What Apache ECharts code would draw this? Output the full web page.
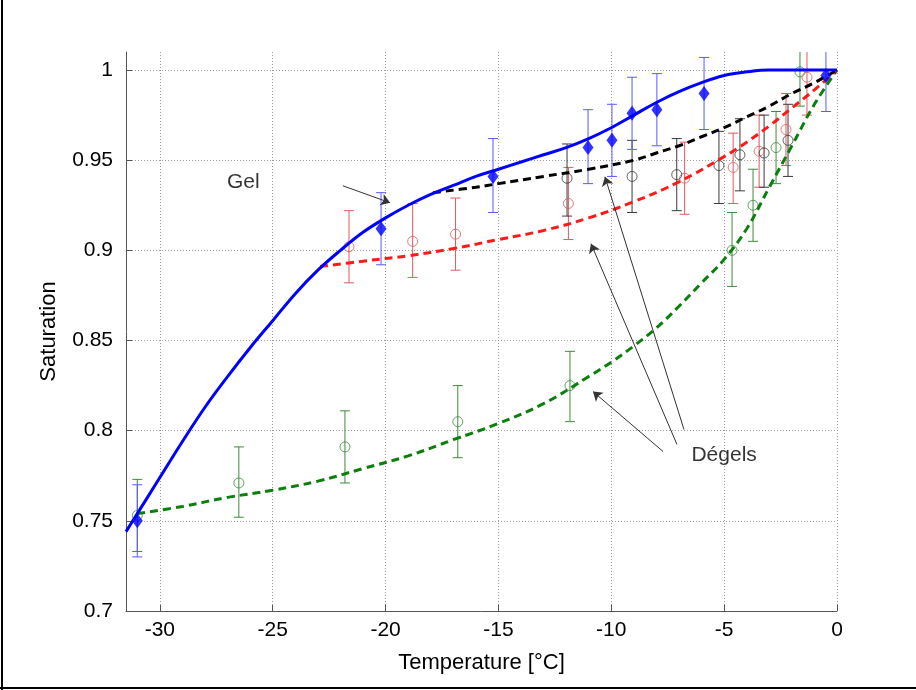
<!DOCTYPE html>
<html>
<head>
<meta charset="utf-8">
<script src="https://cdn.jsdelivr.net/npm/echarts@6/dist/echarts.min.js"></script>
<style>
html,body{margin:0;padding:0;background:#fff;}
#chart{width:916px;height:690px;}
</style>
</head>
<body>
<div id="chart"></div>
<script>
// Tick values
var xTicks = [-30, -25, -20, -15, -10, -5, 0];
var yTicks = [0.7, 0.75, 0.8, 0.85, 0.9, 0.95, 1.0];

// Gel fit (solid blue)
var gelFitX = [-31.5, -31, -30, -29, -28, -27, -26, -25, -24, -23, -22, -21, -20, -19, -18, -17, -16, -15, -14, -13, -12, -11, -10, -9, -8, -7, -6, -5, -4, -3, -2, -1, 0];
var gelFitY = [0.744, 0.754, 0.774, 0.794, 0.813, 0.830, 0.846, 0.861, 0.876, 0.889, 0.900, 0.910, 0.918, 0.925, 0.931, 0.936, 0.941, 0.945, 0.949, 0.953, 0.957, 0.962, 0.968, 0.975, 0.982, 0.988, 0.993, 0.997, 0.999, 1.0, 1.0, 1.0, 1.0];

// Gel measurements (blue diamonds)
var gelX  = [-31.0, -20.2, -15.24, -11.03, -9.97, -9.08, -7.98, -5.89, -0.49];
var gelY  = [0.750, 0.912, 0.941, 0.957, 0.961, 0.976, 0.978, 0.987, 0.997];
var gelLo = [0.730, 0.892, 0.921, 0.937, 0.941, 0.956, 0.958, 0.967, 0.977];
var gelHi = [0.770, 0.932, 0.962, 0.978, 0.981, 0.996, 0.998, 1.007, 1.017];

// Dégel 1 (black)
var blackFitX = [-17.9, -16, -15, -13, -11, -9, -8, -7, -6, -5, -4, -3, -2, -1, 0];
var blackFitY = [0.932, 0.935, 0.937, 0.941, 0.945, 0.950, 0.954, 0.958, 0.963, 0.968, 0.974, 0.980, 0.987, 0.993, 1.0];
var blackX  = [-11.96, -9.08, -7.1, -5.23, -4.3, -3.23, -2.17];
var blackY  = [0.940, 0.941, 0.942, 0.947, 0.953, 0.954, 0.961];
var blackLo = [0.919, 0.921, 0.922, 0.926, 0.933, 0.935, 0.941];
var blackHi = [0.959, 0.961, 0.962, 0.966, 0.973, 0.975, 0.981];

// Dégel 2 (red)
var redFitX = [-22.9, -21, -19, -17, -15, -13, -11, -9, -7, -5, -4, -3, -2, -1, 0];
var redFitY = [0.891, 0.894, 0.897, 0.901, 0.906, 0.911, 0.918, 0.927, 0.938, 0.952, 0.960, 0.969, 0.979, 0.989, 1.0];
var redX  = [-21.62, -18.8, -16.9, -11.9, -6.75, -4.6, -3.45, -2.26, -1.33];
var redY  = [0.902, 0.905, 0.909, 0.926, 0.940, 0.946, 0.955, 0.967, 0.996];
var redLo = [0.882, 0.885, 0.889, 0.906, 0.920, 0.926, 0.935, 0.947, 0.975];
var redHi = [0.922, 0.926, 0.929, 0.946, 0.960, 0.965, 0.975, 0.987, 1.017];

// Dégel 3 (green)
var greenFitX = [-31, -29, -27, -25, -23, -21, -19, -17, -15, -13, -11, -10, -9, -8, -7, -6, -5, -4, -3, -2, -1, 0];
var greenFitY = [0.754, 0.758, 0.763, 0.767, 0.772, 0.779, 0.786, 0.795, 0.804, 0.815, 0.830, 0.838, 0.847, 0.857, 0.869, 0.882, 0.895, 0.912, 0.935, 0.958, 0.981, 1.0];
var greenX  = [-31.0, -26.5, -21.8, -16.8, -11.83, -4.65, -3.72, -2.7, -1.64];
var greenY  = [0.753, 0.771, 0.791, 0.805, 0.825, 0.900, 0.925, 0.957, 0.999];
var greenLo = [0.733, 0.752, 0.771, 0.785, 0.805, 0.880, 0.905, 0.937, 0.980];
var greenHi = [0.773, 0.791, 0.811, 0.825, 0.844, 0.921, 0.945, 0.977, 1.019];

// Annotations (data coordinates)
var labelTexts = ['Gel', 'Dégels'];
var labelPos = [[-26.3, 0.938], [-5.0, 0.7865]];
var arrowTails = [[-21.89, 0.9358], [-7.71, 0.7885], [-7.09, 0.7924], [-6.78, 0.8007]];
var arrowHeads = [[-19.8, 0.9264], [-10.81, 0.8217], [-10.9, 0.9037], [-10.28, 0.9408]];

function zip(xs, ys) { return xs.map(function (x, i) { return [x, ys[i]]; }); }
function zipErr(xs, lo, hi) { return xs.map(function (x, i) { return [x, lo[i], hi[i]]; }); }

function errBarSeries(data, color) {
  return {
    type: 'custom',
    data: data,
    z: 2,
    silent: true,
    clip: true,
    encode: { x: 0, y: [1, 2] },
    renderItem: function (params, api) {
      var x = api.value(0);
      var lo = api.coord([x, api.value(1)]);
      var hi = api.coord([x, api.value(2)]);
      var w = 5;
      var st = { stroke: color, lineWidth: 1, fill: null };
      return {
        type: 'group',
        children: [
          { type: 'line', shape: { x1: lo[0], y1: lo[1], x2: hi[0], y2: hi[1] }, style: st },
          { type: 'line', shape: { x1: lo[0] - w, y1: lo[1], x2: lo[0] + w, y2: lo[1] }, style: st },
          { type: 'line', shape: { x1: hi[0] - w, y1: hi[1], x2: hi[0] + w, y2: hi[1] }, style: st }
        ]
      };
    }
  };
}

function circles(data, color) {
  return {
    type: 'scatter', data: data, symbol: 'circle', symbolSize: 10, z: 3, silent: true,
    itemStyle: { color: 'rgba(0,0,0,0)', borderColor: color, borderWidth: 1 }
  };
}

function fitLine(data, color, dashed, width) {
  return {
    type: 'line', data: data, smooth: 0.4, showSymbol: false, symbol: 'none', z: 4, silent: true,
    lineStyle: { color: color, width: width, type: dashed ? [8, 5] : 'solid' }
  };
}

var FONT = 'Liberation Sans';
var chart = echarts.init(document.getElementById('chart'));

var arrowData = arrowTails.map(function (t, i) {
  return [{ coord: t, symbol: 'none' }, { coord: arrowHeads[i], symbol: 'arrow' }];
});

var option = {
  animation: false,
  backgroundColor: '#ffffff',
  grid: { left: 126, right: 79, top: 52, bottom: 79, containLabel: false },
  xAxis: {
    type: 'value', min: -31.5, max: 0,
    name: 'Temperature [°C]', nameLocation: 'middle', nameGap: 41,
    nameTextStyle: { fontFamily: FONT, fontSize: 22, color: '#000' },
    axisLine: { show: true, onZero: false, lineStyle: { color: '#555', width: 1 } },
    axisTick: { show: true, inside: true, length: 6, customValues: xTicks, lineStyle: { color: '#555' } },
    axisLabel: { customValues: xTicks, fontFamily: FONT, fontSize: 21, color: '#000', margin: 9 },
    splitLine: { show: true, lineStyle: { color: '#9a9a9a', type: [1, 2], width: 1 } }
  },
  yAxis: {
    type: 'value', min: 0.7, max: 1.01,
    name: 'Saturation', nameLocation: 'middle', nameGap: 66,
    nameTextStyle: { fontFamily: FONT, fontSize: 22, color: '#000' },
    axisLine: { show: true, onZero: false, lineStyle: { color: '#555', width: 1 } },
    axisTick: { show: true, inside: true, length: 6, customValues: yTicks, lineStyle: { color: '#555' } },
    axisLabel: {
      customValues: yTicks, fontFamily: FONT, fontSize: 21, color: '#000', margin: 13,
      formatter: function (v) { return String(Math.round(v * 100) / 100); }
    },
    splitLine: { show: true, lineStyle: { color: '#9a9a9a', type: [1, 2], width: 1 } }
  },
  series: [
    errBarSeries(zipErr(greenX, greenLo, greenHi), '#3c8c3c'),
    errBarSeries(zipErr(redX, redLo, redHi), '#e05a5a'),
    errBarSeries(zipErr(blackX, blackLo, blackHi), '#3a3a3a'),
    errBarSeries(zipErr(gelX, gelLo, gelHi), '#5a5aff'),
    circles(zip(greenX, greenY), '#3c8c3c'),
    circles(zip(redX, redY), '#e05a5a'),
    circles(zip(blackX, blackY), '#3a3a3a'),
    fitLine(zip(greenFitX, greenFitY), '#0b7f0b', true, 3),
    fitLine(zip(redFitX, redFitY), '#ff1a1a', true, 3),
    fitLine(zip(blackFitX, blackFitY), '#000000', true, 3),
    fitLine(zip(gelFitX, gelFitY), '#0000ff', false, 3),
    {
      type: 'scatter', data: zip(gelX, gelY), symbol: 'diamond', symbolSize: [11, 15], z: 5, silent: true,
      itemStyle: { color: '#0000ff' }
    },
    {
      type: 'scatter', silent: true, z: 6, symbolSize: 0,
      data: labelPos.map(function (p, i) { return { value: p, name: labelTexts[i] }; }),
      label: {
        show: true, position: 'inside', formatter: '{b}',
        fontFamily: FONT, fontSize: 21, color: '#000'
      },
      markLine: {
        silent: true, animation: false,
        symbolSize: 9,
        label: { show: false },
        lineStyle: { color: '#333', width: 1, type: 'solid' },
        emphasis: { disabled: true },
        data: arrowData
      }
    }
  ],
  graphic: [
    { type: 'line', shape: { x1: 2, y1: 0, x2: 2, y2: 690 }, style: { stroke: '#000', lineWidth: 2 } },
    { type: 'line', shape: { x1: 0, y1: 688, x2: 916, y2: 688 }, style: { stroke: '#000', lineWidth: 2 } }
  ]
};
chart.setOption(option);
</script>
</body>
</html>
